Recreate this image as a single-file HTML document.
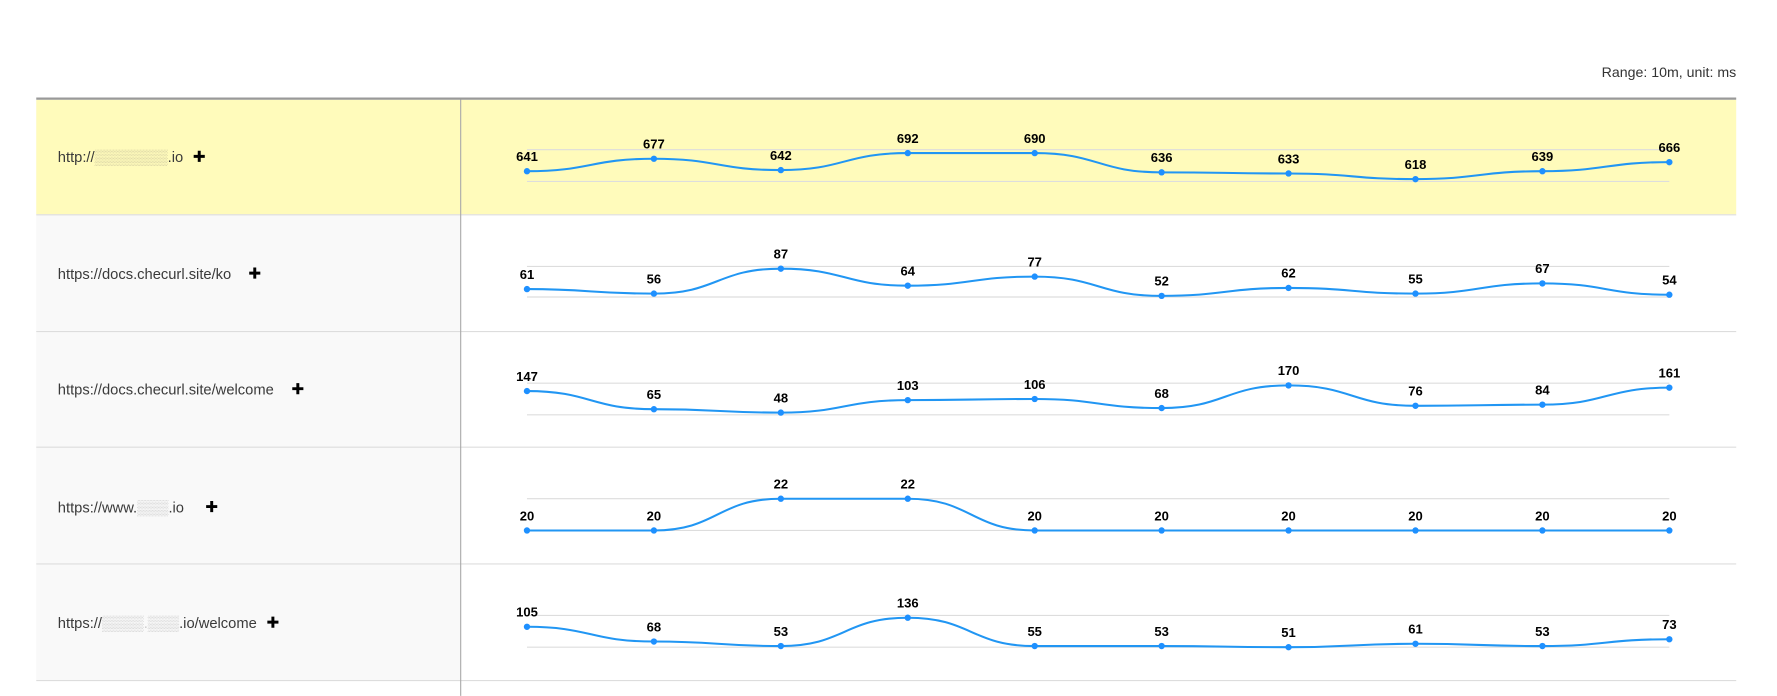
<!DOCTYPE html>
<html><head><meta charset="utf-8"><style>
html,body{margin:0;padding:0;background:#fff;width:1777px;height:696px;overflow:hidden}
svg{display:block}
.lbl{font-family:"Liberation Sans",sans-serif;font-size:13px;fill:#3a3a3a}
.v{font-family:"Liberation Sans",sans-serif;font-size:11.5px;font-weight:bold;fill:#000}
</style></head><body>
<svg id="s" width="1777" height="696" viewBox="0 0 1568 614" xmlns="http://www.w3.org/2000/svg">
<text x="1532" y="68" text-anchor="end" class="lbl" style="font-size:12.5px;fill:#333">Range: 10m, unit: ms</text>
<rect x="32" y="88" width="374" height="512" fill="#f9f9f9"/>
<rect x="32" y="88" width="1500" height="101" fill="#fffbbb"/>
<g stroke="#ddd" stroke-width="1">
<line x1="32" y1="189.5" x2="1532" y2="189.5"/><line x1="32" y1="292.5" x2="1532" y2="292.5"/>
<line x1="32" y1="394.5" x2="1532" y2="394.5"/><line x1="32" y1="497.5" x2="1532" y2="497.5"/>
<line x1="32" y1="600.5" x2="1532" y2="600.5"/>
</g>
<line x1="406.5" y1="87" x2="406.5" y2="614" stroke="#aaa"/>
<line x1="32" y1="87" x2="1532" y2="87" stroke="#999" stroke-width="2"/>
<text x="51" y="143" class="lbl">http://<tspan fill="#cfc9a0">▒▒▒▒▒▒▒</tspan>.io</text>
<text x="51" y="246" class="lbl">https://docs.checurl.site/ko</text>
<text x="51" y="348" class="lbl">https://docs.checurl.site/welcome</text>
<text x="51" y="452" class="lbl">https://www.<tspan fill="#ccc">▒▒▒</tspan>.io</text>
<text x="51" y="554" class="lbl">https://<tspan fill="#ccc">▒▒▒▒.▒▒▒</tspan>.io/welcome</text>
<g fill="#000">
<path d="M174.5 133h2.6v3.6h3.6v2.6h-3.6v3.6h-2.6v-3.6h-3.6v-2.6h3.6z"/>
<path d="M223.5 236h2.6v3.6h3.6v2.6h-3.6v3.6h-2.6v-3.6h-3.6v-2.6h3.6z"/>
<path d="M261.5 338h2.6v3.6h3.6v2.6h-3.6v3.6h-2.6v-3.6h-3.6v-2.6h3.6z"/>
<path d="M185.5 442h2.6v3.6h3.6v2.6h-3.6v3.6h-2.6v-3.6h-3.6v-2.6h3.6z"/>
<path d="M239.5 544h2.6v3.6h3.6v2.6h-3.6v3.6h-2.6v-3.6h-3.6v-2.6h3.6z"/>
</g>
<g id="charts"></g>
</svg>
<script>
var xs=[465,577,689,801,913,1025,1137,1249,1361,1473];
var rows=[
{g:[132,160],v:[641,677,642,692,690,636,633,618,639,666],y:[151,140,150,135,135,152,153,158,151,143]},
{g:[235,262],v:[61,56,87,64,77,52,62,55,67,54],y:[255,259,237,252,244,261,254,259,250,260]},
{g:[338,366],v:[147,65,48,103,106,68,170,76,84,161],y:[345,361,364,353,352,360,340,358,357,342]},
{g:[440,468],v:[20,20,22,22,20,20,20,20,20,20],y:[468,468,440,440,468,468,468,468,468,468]},
{g:[543,571],v:[105,68,53,136,55,53,51,61,53,73],y:[553,566,570,545,570,570,571,568,570,564]}];
var h='';
rows.forEach(function(r){
 r.g.forEach(function(gy){h+='<line x1="465" x2="1473" y1="'+gy+'" y2="'+gy+'" stroke="#ddd" stroke-width="1"/>';});
 var d='M'+xs[0]+' '+r.y[0];
 for(var i=1;i<10;i++){var m=(xs[i-1]+xs[i])/2;d+=' C'+m+' '+r.y[i-1]+' '+m+' '+r.y[i]+' '+xs[i]+' '+r.y[i];}
 h+='<path d="'+d+'" fill="none" stroke="#2196f3" stroke-width="1.8"/>';
 for(var i=0;i<10;i++){h+='<circle cx="'+xs[i]+'" cy="'+r.y[i]+'" r="2.8" fill="#1e90ff"/>';
  h+='<text class="v" x="'+xs[i]+'" y="'+(r.y[i]-9)+'" text-anchor="middle">'+r.v[i]+'</text>';}
});
document.getElementById('charts').innerHTML=h;
</script>
</body></html>
